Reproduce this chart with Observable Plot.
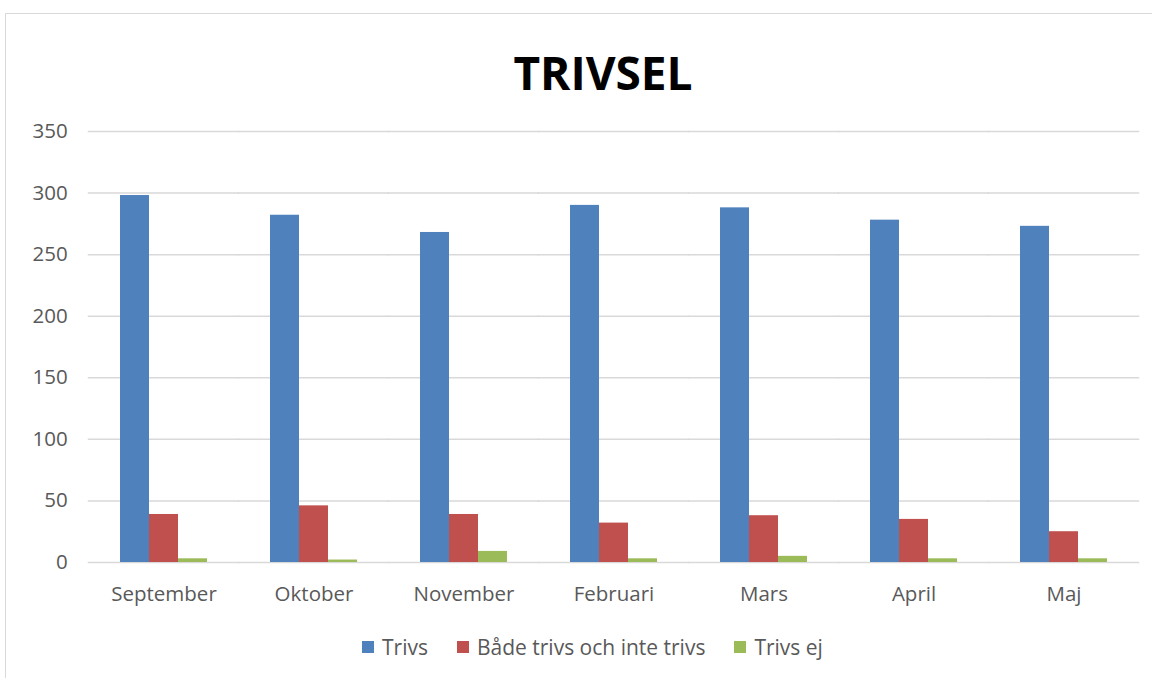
<!DOCTYPE html>
<html>
<head>
<meta charset="utf-8">
<script src="https://cdn.jsdelivr.net/npm/d3@7"></script>
<script src="https://cdn.jsdelivr.net/npm/@observablehq/plot@0.6"></script>
<style>
  html, body { margin: 0; padding: 0; background: #fff; }
  #frame { position: absolute; left: 5px; top: 13px; width: 1160px; height: 680px;
           border-top: 1px solid #d9d9d9; border-left: 1px solid #d9d9d9; }
  #wrap { position: absolute; left: 0; top: 0; width: 1152px; height: 678px; font-family: "Open Sans", sans-serif; }
  #title { height: 110px; box-sizing: border-box; padding-top: 49px; text-align: center;
           font-weight: bold; font-size: 46px; line-height: 1; color: #000; padding-left: 54px; }
  #legend { height: 54px; display: flex; justify-content: flex-start; align-items: center;
            padding-left: 362px; font-size: 21px; color: #595959; margin-top: 0px; }
  .item { display: flex; align-items: center; margin-right: 29px; }
  .sw { width: 12px; height: 12px; margin-right: 8px; }
  #chart svg { display: block; }
</style>
</head>
<body>
<div id="frame"></div>
<div id="wrap">
  <div id="title">TRIVSEL</div>
  <div id="chart"></div>
  <div id="legend"></div>
</div>
<script>
const months = ["September", "Oktober", "November", "Februari", "Mars", "April", "Maj"];
const seriesNames = ["Trivs", "Både trivs och inte trivs", "Trivs ej"];
const colors = ["#4f81bd", "#c0504d", "#9bbb59"];
const trivs = [298, 282, 268, 290, 288, 278, 273];
const bade = [39, 46, 39, 32, 38, 35, 25];
const trivsEj = [3, 2, 9, 3, 5, 3, 3];
const yTicks = [0, 50, 100, 150, 200, 250, 300, 350];

const seriesValues = [trivs, bade, trivsEj];
const data = [];
months.forEach((m, i) => {
  seriesNames.forEach((s, j) => data.push({month: m, series: s, value: seriesValues[j][i]}));
});

const W = 1152, ML = 87, MR = 13;
const padIn = 0.422, padOut = 0.211;
const step = (W - ML - MR) / (months.length - padIn + 2 * padOut);
const halfGap = step * padIn / 2 + 0.5;
const outerPad = step * padOut;

const chart = Plot.plot({
  width: W,
  height: 510,
  marginTop: 21,
  marginBottom: 58,
  marginLeft: ML,
  marginRight: MR,
  style: { fontFamily: "Open Sans, sans-serif", fontSize: "20.5px", color: "#595959", background: "transparent" },
  fx: { domain: months, paddingInner: padIn, paddingOuter: padOut, label: null },
  x: { domain: seriesNames, padding: 0, axis: null },
  y: { domain: [0, 350], ticks: yTicks, label: null },
  color: { domain: seriesNames, range: colors },
  marks: [
    Plot.ruleY(yTicks, { stroke: "#d9d9d9", strokeWidth: 1.5, insetLeft: -halfGap, insetRight: -halfGap }),
    Plot.barY(data, { fx: "month", x: "series", y: "value", fill: "series", inset: 0 }),
    Plot.axisY({ ticks: yTicks, tickSize: 0, tickPadding: 21 + outerPad, label: null, fill: "#595959" }),
    Plot.axisFx({ anchor: "bottom", tickSize: 0, tickPadding: 24, label: null, fill: "#595959" })
  ]
});
document.getElementById("chart").appendChild(chart);

const legend = document.getElementById("legend");
seriesNames.forEach((s, i) => {
  const item = document.createElement("div");
  item.className = "item";
  const sw = document.createElement("div");
  sw.className = "sw";
  sw.style.background = colors[i];
  const t = document.createElement("span");
  t.textContent = s;
  item.appendChild(sw);
  item.appendChild(t);
  legend.appendChild(item);
});
</script>
</body>
</html>
